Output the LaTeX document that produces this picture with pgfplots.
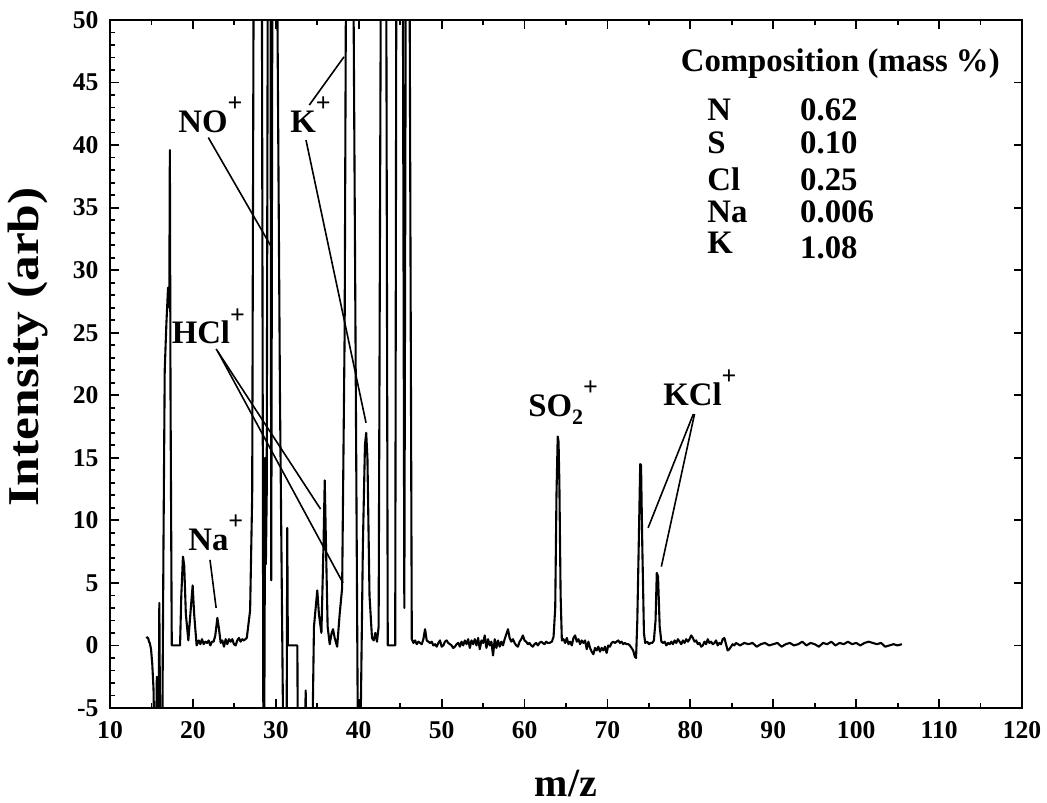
\documentclass[border=0pt]{standalone}
\usepackage{fontspec}
\setmainfont{Liberation Serif}
\newfontfamily\widefont[FakeStretch=1.17]{Liberation Serif}
\usepackage{pgfplots}
\pgfplotsset{compat=1.18}

% ion charge and subscript helpers
\newcommand{\chg}{\raisebox{10.4pt}{\fontsize{13}{13}\selectfont +}}
\newcommand{\sbs}[1]{\raisebox{-4pt}{\fontsize{11}{11}\selectfont #1}}
\newcommand{\lbl}{\fontsize{16.4}{18}\selectfont\bfseries}

\begin{document}
\begin{tikzpicture}
\begin{axis}[
  scale only axis, width=456pt, height=344pt,
  xmin=10, xmax=120, ymin=-5, ymax=50,
  xtick={10,20,...,120}, ytick={-5,0,...,50},
  minor x tick num=1, minor y tick num=4,
  tick align=inside, xtick pos=both, ytick pos=left,
  major tick length=4.5pt, minor tick length=2.5pt,
  every tick/.style={black, line width=0.9pt},
  axis line style={line width=1.3pt},
  /pgf/number format/assume math mode=true,
  ticklabel style={font=\fontsize{12.8}{12.8}\selectfont\bfseries},
  xticklabel style={yshift=-3.2pt},
  yticklabel style={xshift=-2.2pt},
  xlabel={m/z}, ylabel={Intensity (arb)},
  xlabel style={font=\fontsize{20}{20}\selectfont\bfseries,
    at={(axis description cs:0.5,-0.128)}, anchor=base},
  ylabel style={font=\fontsize{22}{22}\widefont\bfseries,
    at={(axis description cs:-0.0789,0.525)}, anchor=base},
]
\coordinate (ll) at (rel axis cs:0,0);
\coordinate (ur) at (rel axis cs:1,1);

% right-hand major ticks
\pgfplotsinvokeforeach{-5,0,5,10,15,20,25,30,35,40,45}{
  \draw[line width=0.9pt] (axis cs:120,#1) -- ([xshift=-4pt]axis cs:120,#1);
}

% mass spectrum
\addplot[black, line width=1.05pt, line join=round] coordinates {
(14.4,0.7)(14.5,0.6)(14.6,0.6)(14.7,0.3)(14.8,0.2)(14.95,-0.3)(15.1,-1.5)
(15.25,-3.5)(15.35,-8)(15.55,-8)(15.65,-2.5)(15.75,-8)(15.85,-8)(15.95,3.4)
(16.05,-8)(16.3,-8)(16.45,8)(16.6,22)(16.8,25.7)(17.0,28.6)(17.15,27)
(17.22,39.6)(17.3,20)(17.45,0)(18.45,0)(18.6,4)(18.8,7.1)(18.95,6.4)
(19.15,2.5)(19.45,0.4)(19.75,3)(19.97,4.8)(20.15,2.5)(20.45,0.0)(20.7,0.4)
(20.9,0.1)(21.1,0.5)(21.3,0.1)(21.5,0.3)(21.7,0.2)(21.9,0.4)(22.1,0.0)
(22.3,0.3)(22.5,0.3)(22.7,0.8)(22.95,2.2)(23.15,1.3)(23.35,0.2)(23.55,0.4)
(23.75,-0.1)(23.95,0.5)(24.15,0.1)(24.35,0.5)(24.55,0.3)(24.75,0.5)(24.95,0.1)
(25.15,0.0)(25.35,0.4)(25.55,0.6)(25.75,0.3)(25.95,0.5)(26.15,0.4)(26.5,0.6)
(26.9,2.8)(27.15,12)(27.35,60)(28.3,60)(28.5,-8)(28.6,-8)(28.72,15)(28.8,6.5)
(28.9,12)(29.05,60)(29.35,60)(29.45,5.2)(29.6,60)(30.1,60)(30.5,20)(30.9,-8)
(31.3,-8)(31.38,9.4)(31.45,0)(32.6,0)(32.65,-8)(33.5,-8)(33.6,-3.6)(33.7,-8)
(34.4,-8)(34.6,1.5)(35.0,4.4)(35.2,2.5)(35.5,1.0)(35.75,8)(35.9,13.2)(36.05,8)
(36.25,1.5)(36.5,0.1)(36.7,0.9)(36.9,1.3)(37.1,0.6)(37.4,-0.1)(37.7,2.5)
(38.0,4.6)(38.3,25)(38.5,60)(39.3,60)(39.9,-8)(40.2,-8)(40.5,8)(40.75,16)
(40.9,17.0)(41.05,15)(41.3,4)(41.6,0.6)(41.8,0.4)(42.0,1.0)(42.2,0.3)(42.4,1.5)
(42.7,60)(43.3,60)(43.5,0)(44.4,0)(44.55,60)(45.3,60)(45.5,3)(45.7,60)(46.1,60)
(46.4,0.5)(46.6,0.2)(46.8,0.4)(47.0,0.1)(47.2,0.3)(47.4,0.2)(47.6,0.1)(47.8,0.5)
(48.0,1.3)(48.2,0.4)(48.4,0.3)(48.6,0.2)(48.8,0.3)(49.0,0.0)(49.2,0.1)(49.4,-0.1)
(49.6,0.2)(49.8,0.4)(50.0,-0.1)(50.2,0.0)(50.4,0.3)(50.6,0.4)(50.8,0.2)(51.0,0.1)
(51.2,0.0)(51.4,-0.2)(51.6,-0.1)(51.8,0.1)(52.0,0.2)(52.2,-0.1)(52.4,0.3)(52.6,0.0)
(52.8,0.4)(53.0,0.1)(53.2,0.5)(53.4,-0.2)(53.6,0.4)(53.8,0.1)(54.0,0.5)(54.2,0.0)
(54.4,0.6)(54.6,-0.3)(54.8,0.4)(55.0,0.2)(55.2,0.8)(55.4,-0.2)(55.6,0.5)(55.8,0.0)
(56.0,0.3)(56.2,-0.8)(56.4,0.5)(56.6,-0.2)(56.8,0.4)(57.0,-0.1)(57.2,0.3)(57.4,0.0)
(57.6,0.5)(57.8,0.9)(58.0,1.3)(58.2,0.6)(58.4,0.3)(58.6,0.5)(58.8,0.2)(59.0,0.0)
(59.2,-0.1)(59.4,0.3)(59.6,0.5)(59.8,0.8)(60.0,0.4)(60.2,0.3)(60.4,0.1)(60.6,0.2)
(60.8,0.0)(61.0,-0.1)(61.2,0.1)(61.4,0.2)(61.6,0.0)(61.8,0.2)(62.0,0.3)(62.2,0.2)
(62.4,0.1)(62.6,0.3)(62.8,0.2)(63.0,0.2)(63.3,0.3)(63.5,0.7)(63.7,3)(63.85,12)
(64.0,16.7)(64.1,16.3)(64.2,13)(64.35,4)(64.5,0.4)(64.7,0.5)(64.9,0.2)(65.1,0.6)
(65.3,0.1)(65.5,0.3)(65.7,0.0)(65.9,0.6)(66.1,0.8)(66.3,0.3)(66.5,0.5)(66.7,0.1)
(66.9,0.4)(67.1,0.2)(67.3,0.4)(67.5,-0.3)(67.7,0.3)(67.9,-0.2)(68.1,-0.5)(68.3,-0.7)
(68.5,-0.2)(68.7,-0.4)(68.9,-0.1)(69.1,-0.5)(69.3,-0.2)(69.5,-0.4)(69.7,-0.1)
(69.9,-0.6)(70.1,0.0)(70.3,-0.1)(70.5,0.2)(70.7,0.3)(70.9,0.2)(71.1,0.3)(71.3,0.4)
(71.5,0.2)(71.7,0.3)(71.9,0.1)(72.1,0.2)(72.3,0.1)(72.5,0.1)(72.7,0.0)(72.9,-0.2)
(73.1,-0.4)(73.3,-0.9)(73.45,-1.0)(73.6,2)(73.8,9)(73.95,14.5)(74.05,14.4)(74.2,8)
(74.4,1)(74.55,0.2)(74.8,0.3)(75.0,0.1)(75.2,0.2)(75.4,0.2)(75.6,0.4)(75.8,2)
(75.95,5.8)(76.1,5.5)(76.3,1.5)(76.5,0.3)(76.7,0.2)(76.9,0.3)(77.1,0.0)(77.3,0.2)
(77.5,0.1)(77.7,0.3)(77.9,0.1)(78.1,0.4)(78.3,0.2)(78.5,0.5)(78.7,0.3)(78.9,0.1)
(79.1,0.4)(79.3,0.2)(79.5,0.5)(79.7,0.3)(79.9,0.5)(80.1,0.8)(80.3,0.6)(80.5,0.3)
(80.7,0.4)(80.9,0.1)(81.1,0.2)(81.3,-0.1)(81.5,0.0)(81.7,0.3)(81.9,0.1)(82.1,0.5)
(82.3,0.2)(82.5,0.3)(82.7,0.1)(82.9,0.2)(83.1,0.4)(83.3,0.0)(83.5,0.2)(83.7,0.1)
(83.9,0.5)(84.1,0.6)(84.3,0.1)(84.5,-0.4)(84.7,-0.3)(84.9,-0.1)(85.1,0.1)(85.3,0.0)
(85.5,0.2)(86.0,0.0)(86.5,0.2)(87.0,0.1)(87.5,0.2)(88.0,-0.1)(88.5,0.1)(89.0,0.2)
(89.5,0.0)(90.0,0.1)(90.5,0.2)(91.0,-0.1)(91.5,0.1)(92.0,0.2)(92.5,0.0)(93.0,0.1)
(93.5,0.3)(94.0,0.0)(94.5,0.2)(95.0,0.1)(95.5,-0.1)(96.0,0.2)(96.5,0.1)(97.0,0.3)
(97.5,0.0)(98.0,0.2)(98.5,0.1)(99.0,0.3)(99.5,0.1)(100.0,0.2)(100.5,0.0)(101.0,0.2)
(101.5,0.3)(102.0,0.2)(102.5,0.1)(103.0,0.2)(103.5,-0.1)(104.0,0.0)(104.5,0.1)
(105.0,0.0)(105.5,0.1)
};

% peak labels and leader lines
\begin{scope}[line width=0.8pt]
\draw (axis cs:21.86,40.6) -- (axis cs:29.6,31.7);
\draw (axis cs:34.04,43.2) -- (axis cs:38.23,47.06);
\draw (axis cs:33.64,40.4) -- (axis cs:40.88,17.8);
\draw (axis cs:22.8,23.7) -- (axis cs:35.4,10.9);
\draw (axis cs:23.0,23.5) -- (axis cs:38.1,5.0);
\draw (axis cs:22.06,6.84) -- (axis cs:22.8,3.0);
\draw (axis cs:80.36,18.5) -- (axis cs:74.9,9.4);
\draw (axis cs:80.5,18.5) -- (axis cs:76.5,6.3);
\end{scope}
\node[anchor=base west, inner sep=0, font=\lbl] at (axis cs:18.2,41.0) {NO\chg};
\node[anchor=base west, inner sep=0, font=\lbl] at (axis cs:31.7,41.0) {K\chg};
\node[anchor=base west, inner sep=0, font=\lbl] at (axis cs:17.4,24.1) {HCl\chg};
\node[anchor=base west, inner sep=0, font=\lbl] at (axis cs:19.4,7.6) {Na\chg};
\node[anchor=base west, inner sep=0, font=\lbl] at (axis cs:60.4,18.3) {SO\sbs{2}\chg};
\node[anchor=base west, inner sep=0, font=\lbl] at (axis cs:76.7,19.2) {KCl\chg};

% composition table
\node[anchor=base west, inner sep=0, font=\lbl] at (axis cs:78.8,45.9) {Composition (mass \%)};
\node[anchor=base west, inner sep=0, font=\lbl] at (axis cs:82.0,42.0) {N};
\node[anchor=base west, inner sep=0, font=\lbl] at (axis cs:82.0,39.3) {S};
\node[anchor=base west, inner sep=0, font=\lbl] at (axis cs:82.0,36.4) {Cl};
\node[anchor=base west, inner sep=0, font=\lbl] at (axis cs:82.0,33.8) {Na};
\node[anchor=base west, inner sep=0, font=\lbl] at (axis cs:82.0,31.3) {K};
\node[anchor=base west, inner sep=0, font=\lbl] at (axis cs:93.2,42.0) {0.62};
\node[anchor=base west, inner sep=0, font=\lbl] at (axis cs:93.2,39.3) {0.10};
\node[anchor=base west, inner sep=0, font=\lbl] at (axis cs:93.2,36.4) {0.25};
\node[anchor=base west, inner sep=0, font=\lbl] at (axis cs:93.2,33.8) {0.006};
\node[anchor=base west, inner sep=0, font=\lbl] at (axis cs:93.2,30.9) {1.08};
\end{axis}
\pgfresetboundingbox
\path[use as bounding box] ([shift={(-55pt,-47.5pt)}]ll) rectangle ([shift={(12.5pt,10pt)}]ur);
\end{tikzpicture}
\end{document}
